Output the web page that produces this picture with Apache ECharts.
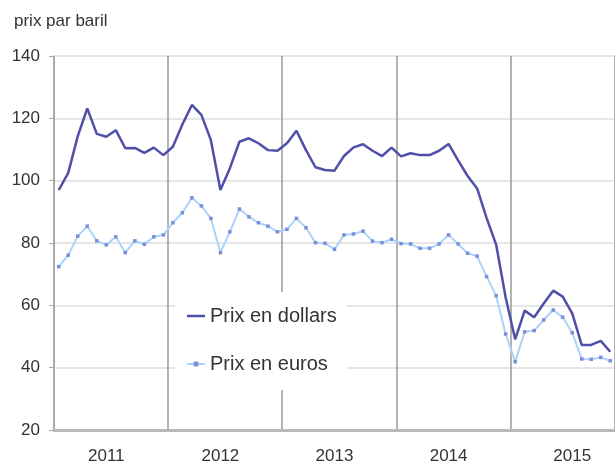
<!DOCTYPE html>
<html>
<head>
<meta charset="utf-8">
<script src="https://cdn.jsdelivr.net/npm/echarts@6/dist/echarts.min.js"></script>
<style>
  html, body { margin: 0; padding: 0; background: #fff; }
  #chart { width: 615px; height: 468px; }
</style>
</head>
<body>
<div id="chart"></div>
<script>
// monthly Brent price, Jan 2011 -> Nov 2015
const years = ['2011', '2012', '2013', '2014', '2015']
const monthNums = ['01', '02', '03', '04', '05', '06', '07', '08', '09', '10', '11', '12']

const dollars = [
  97.0, 102.5, 114.3, 123.2, 115.0, 114.1, 116.2, 110.4, 110.5, 108.9, 110.6, 108.2,
  110.9, 118.0, 124.3, 121.1, 113.0, 97.0, 104.0, 112.5, 113.6, 112.0, 109.8, 109.6,
  112.0, 116.0, 109.8, 104.3, 103.4, 103.2, 107.9, 110.7, 111.7, 109.6, 107.9, 110.6,
  107.8, 108.8, 108.2, 108.2, 109.6, 111.8, 106.5, 101.5, 97.5, 88.0, 79.5, 62.5,
  49.1, 58.3, 56.2, 60.6, 64.7, 62.8, 57.4, 47.3, 47.3, 48.6, 45.1,
]

const euros = [
  72.4, 76.1, 82.2, 85.4, 80.7, 79.4, 82.0, 76.9, 80.7, 79.6, 82.0, 82.6,
  86.5, 89.7, 94.5, 91.9, 87.9, 76.9, 83.6, 90.9, 88.4, 86.5, 85.4, 83.6,
  84.4, 87.9, 84.9, 80.1, 79.9, 78.0, 82.6, 82.9, 83.8, 80.6, 80.1, 81.2,
  79.8, 79.7, 78.3, 78.3, 79.7, 82.6, 79.7, 76.7, 75.8, 69.2, 63.1, 50.8,
  41.9, 51.5, 51.9, 55.3, 58.5, 56.2, 51.2, 42.8, 42.7, 43.3, 42.2,
]

const months = []
years.forEach((y) => monthNums.forEach((m) => months.push(y + '-' + m)))
months.length = dollars.length

const font = '"Liberation Sans", Arial, sans-serif'
const textColor = '#333'

// year label sits mid-year; the last (partial) year is labelled one month later
function isLabelMonth(index) {
  const last = Math.floor((months.length - 1) / 12) * 12
  if (index >= last) return index === last + 6
  return index % 12 === 5
}

const chart = echarts.init(document.getElementById('chart'))

chart.setOption({
  backgroundColor: '#fff',
  animation: false,
  textStyle: { fontFamily: font },
  title: {
    text: 'prix par baril',
    left: 9,
    top: 8,
    textStyle: { fontFamily: font, fontSize: 17, fontWeight: 'normal', color: textColor },
  },
  grid: {
    left: 54,
    right: -2,
    top: 56,
    bottom: 38,
  },
  legend: {
    orient: 'vertical',
    left: 175,
    top: 292,
    padding: [14, 10, 16, 11],
    backgroundColor: '#fff',
    itemWidth: 18,
    itemHeight: 6,
    itemGap: 28,
    textStyle: { fontFamily: font, fontSize: 20, color: textColor },
    data: [
      { name: 'Prix en dollars', icon: 'path://M0,0 H18 V2.5 H0 Z' },
      { name: 'Prix en euros' },
    ],
  },
  xAxis: {
    type: 'category',
    data: months,
    boundaryGap: true,
    axisLine: { lineStyle: { color: '#b9b9b9', width: 3 } },
    axisTick: {
      interval: (index) => index % 12 === 0,
      length: 7,
      lineStyle: { color: '#9a9a9a', width: 1.5 },
    },
    splitLine: {
      show: true,
      interval: (index) => index % 12 === 0,
      lineStyle: { color: '#9a9a9a', width: 1.5 },
    },
    axisLabel: {
      interval: isLabelMonth,
      formatter: (value) => value.slice(0, 4),
      fontFamily: font,
      fontSize: 17,
      color: textColor,
      margin: 18,
    },
  },
  yAxis: {
    type: 'value',
    min: 20,
    max: 140,
    interval: 20,
    axisLine: { show: true, lineStyle: { color: '#a8a8a8', width: 1.5 } },
    axisTick: { show: true, length: 5, lineStyle: { color: '#a8a8a8' } },
    splitLine: { lineStyle: { color: '#e6e6e6', width: 2 } },
    axisLabel: { fontFamily: font, fontSize: 17, color: textColor, margin: 14 },
  },
  series: [
    {
      name: 'Prix en dollars',
      type: 'line',
      data: dollars,
      symbol: 'none',
      lineStyle: { color: '#4f4fa8', width: 2.5 },
      itemStyle: { color: '#4f4fa8' },
      z: 3,
    },
    {
      name: 'Prix en euros',
      type: 'line',
      data: euros,
      symbol: 'rect',
      symbolSize: 3.5,
      lineStyle: { color: '#a9d3fb', width: 2 },
      itemStyle: { color: '#7b8fd9' },
      z: 2,
    },
  ],
})
</script>
</body>
</html>
